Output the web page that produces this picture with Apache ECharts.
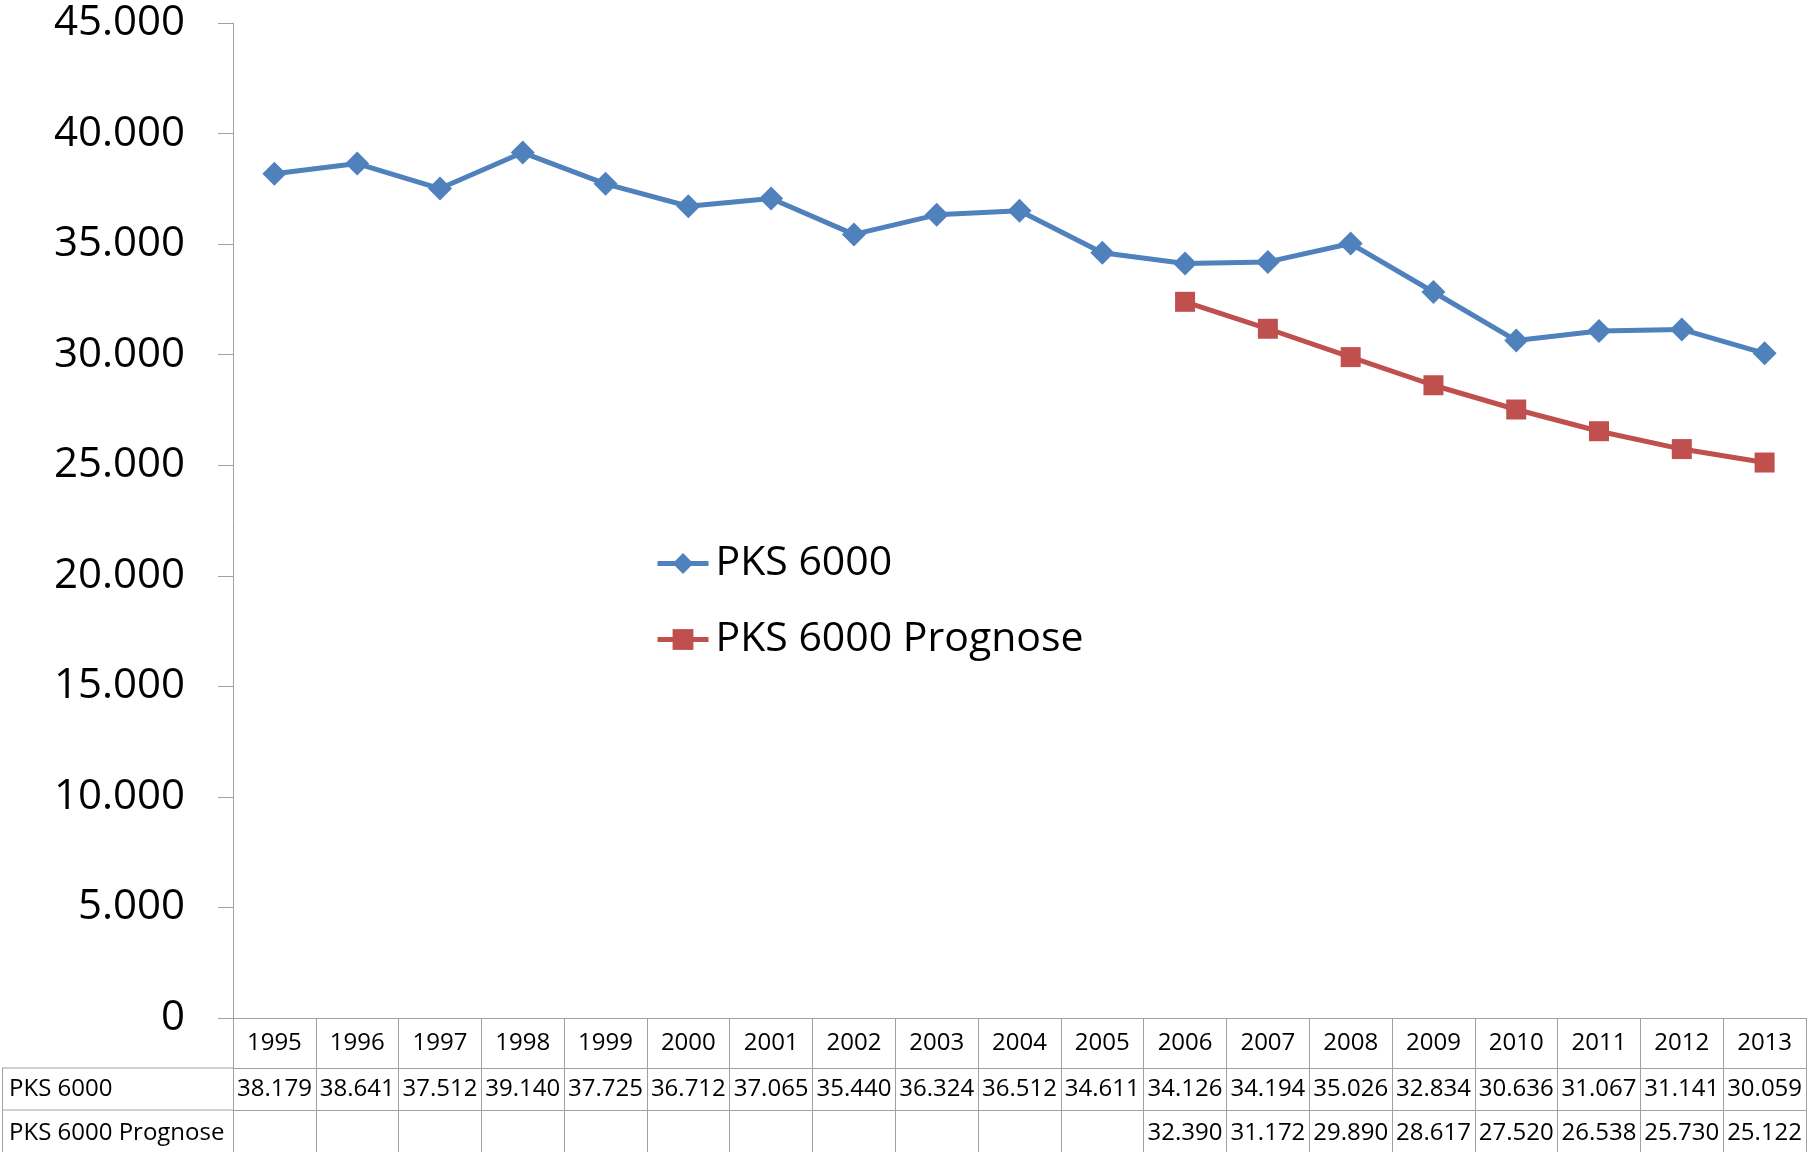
<!DOCTYPE html>
<html>
<head>
<meta charset="utf-8">
<script src="https://cdn.jsdelivr.net/npm/echarts@6/dist/echarts.min.js"></script>
<style>
html,body{margin:0;padding:0;background:#fff;}
#chart{width:1810px;height:1152px;}
</style>
</head>
<body>
<div id="chart"></div>
<script>
const years = ['1995','1996','1997','1998','1999','2000','2001','2002','2003','2004','2005','2006','2007','2008','2009','2010','2011','2012','2013'];
const pks6000 = [38179,38641,37512,39140,37725,36712,37065,35440,36324,36512,34611,34126,34194,35026,32834,30636,31067,31141,30059];
const pksPrognose = [null,null,null,null,null,null,null,null,null,null,null,32390,31172,29890,28617,27520,26538,25730,25122];
const seriesNames = ['PKS 6000','PKS 6000 Prognose'];
const yTicks = {min:0, max:45000, interval:5000};

const FONT = '"Open Sans", "Noto Sans", sans-serif';
const GRAY = '#A0A0A0';
function fmt(v){
  if (v === null || v === undefined) return '';
  if (v === 0) return '0';
  const s = String(Math.round(v));
  return s.replace(/\B(?=(\d{3})+(?!\d))/g, '.');
}

const chart = echarts.init(document.getElementById('chart'), null, {renderer:'canvas'});

function tableAxis(offset, tickLen, margin, formatter){
  return {
    type:'category', data:years, position:'bottom', offset:offset, boundaryGap:true,
    axisLine:{show:true, lineStyle:{color:GRAY, width:1}},
    axisTick:{show:true, inside:false, length:tickLen, lineStyle:{color:GRAY, width:1}},
    axisLabel:{show:true, interval:0, margin:margin, color:'#000', fontFamily:FONT, fontSize:24, lineHeight:24, formatter:formatter},
    splitLine:{show:false}
  };
}

const option = {
  backgroundColor:'#fff',
  animation:false,
  grid:{left:233, right:4, top:23, bottom:134, containLabel:false},
  legend:{
    orient:'vertical', left:650, top:538, itemWidth:51, itemHeight:26, itemGap:35,
    textStyle:{fontFamily:FONT, fontSize:41, lineHeight:40, color:'#000', padding:[0,0,0,2]},
    data:[
      {name:seriesNames[0], lineStyle:{width:5}},
      {name:seriesNames[1], lineStyle:{width:5}}
    ]
  },
  xAxis:[
    tableAxis(0, 50, 13, function(v){return v;}),
    tableAxis(50, 42, 9, function(v,i){return fmt(pks6000[i]);}),
    tableAxis(92, 42, 11, function(v,i){return fmt(pksPrognose[i]);})
  ],
  yAxis:{
    type:'value', min:yTicks.min, max:yTicks.max, interval:yTicks.interval,
    axisLine:{show:true, lineStyle:{color:GRAY, width:1}},
    axisTick:{show:true, inside:false, length:15, lineStyle:{color:GRAY}},
    axisLabel:{margin:48, color:'#000', fontFamily:FONT, fontSize:42, formatter:fmt},
    splitLine:{show:false}
  },
  graphic:[
    {type:'line', shape:{x1:2, y1:1068, x2:233, y2:1068}, style:{stroke:GRAY, lineWidth:1}},
    {type:'line', shape:{x1:2, y1:1110, x2:233, y2:1110}, style:{stroke:GRAY, lineWidth:1}},
    {type:'line', shape:{x1:2.5, y1:1068, x2:2.5, y2:1152}, style:{stroke:GRAY, lineWidth:1}},
    {type:'text', left:9, top:1077, style:{text:seriesNames[0], fontFamily:FONT, fontSize:24, fill:'#000'}},
    {type:'text', left:9, top:1121, style:{text:seriesNames[1], fontFamily:FONT, fontSize:24, fill:'#000'}}
  ],
  series:[
    {name:seriesNames[0], type:'line', data:pks6000, xAxisIndex:0,
     symbol:'diamond', symbolSize:24, color:'#4F81BD',
     lineStyle:{width:5, color:'#4F81BD'}, itemStyle:{color:'#4F81BD'}},
    {name:seriesNames[1], type:'line', data:pksPrognose, xAxisIndex:0,
     symbol:'rect', symbolSize:20, color:'#C0504D',
     lineStyle:{width:5, color:'#C0504D'}, itemStyle:{color:'#C0504D'}}
  ]
};
chart.setOption(option);
</script>
</body>
</html>
